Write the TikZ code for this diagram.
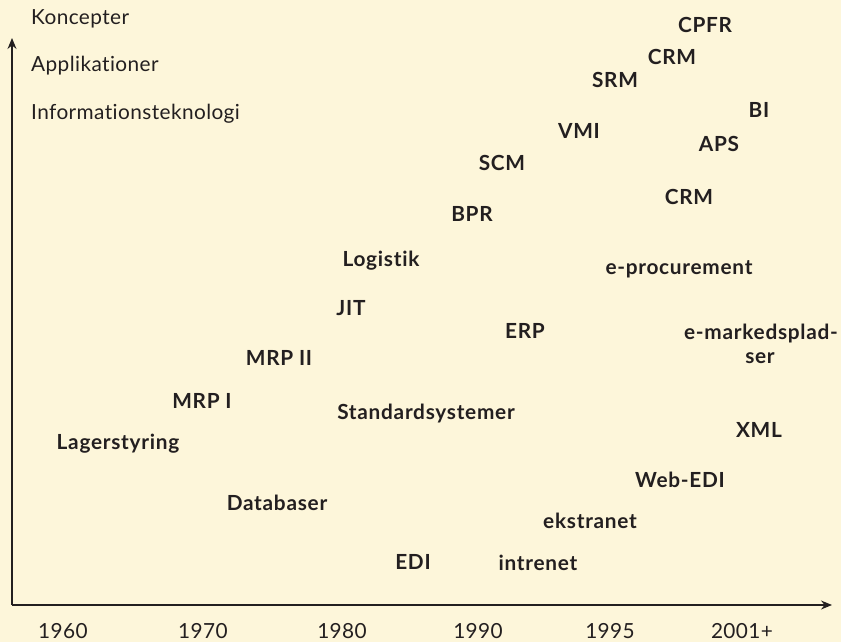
\documentclass[tikz,border=0pt]{standalone}
\usepackage{fontspec}
\setmainfont{Lato}[Ligatures={NoCommon,NoRare}]
\newfontfamily\bfam{Lato Bold}[Ligatures={NoCommon,NoRare},LetterSpace=3.5]
\newfontfamily\rfam{Lato}[Ligatures={NoCommon,NoRare},LetterSpace=2]
\usetikzlibrary{arrows.meta}
\definecolor{bg}{HTML}{FDF6DA}
\definecolor{ink}{HTML}{231F20}
\tikzset{
  bl/.style={font=\fontsize{20.8}{24}\bfam, text=ink, inner sep=0pt, anchor=base},
  rl/.style={font=\fontsize{20.8}{24}\rfam, text=ink, inner sep=0pt, anchor=base},
  axis/.style={draw=ink, line width=1.3pt, -{Stealth[length=11pt,width=9pt]}}
}
\begin{document}
\begin{tikzpicture}[x=1pt,y=-1pt]
\fill[bg] (0,0) rectangle (841,642);
\useasboundingbox (0,0) rectangle (841,642);
% axes
\coordinate (o) at (12,605);
\coordinate (ytop) at (12,38);
\coordinate (xend) at (832,605);
\draw[axis] (o) -- (ytop);
\draw[axis] (o) -- (xend);
% left legend
\node[rl, anchor=base west] (k) at (31,24.5) {Koncepter};
\node[rl, anchor=base west] (a) at (31,71.5) {Applikationer};
\node[rl, anchor=base west] (i) at (31,119.5) {Informationsteknologi};
% years
\node[rl] (y60) at (63,638.5) {1960};
\node[rl] (y70) at (203,638.5) {1970};
\node[rl] (y80) at (342,638.5) {1980};
\node[rl] (y90) at (478,638.5) {1990};
\node[rl] (y95) at (610,638.5) {1995};
\node[rl] (y01) at (742,638.5) {2001+};
% items
\node[bl] (cpfr) at (705,32.5) {CPFR};
\node[bl] (crma) at (672,64.5) {CRM};
\node[bl] (srm) at (615,87.5) {SRM};
\node[bl] (bi) at (759,117.5) {BI};
\node[bl] (vmi) at (579,138.5) {VMI};
\node[bl] (aps) at (719,151.5) {APS};
\node[bl] (scm) at (502,170.5) {SCM};
\node[bl] (crmb) at (689,204.5) {CRM};
\node[bl] (bpr) at (472,221.5) {BPR};
\node[bl] (log) at (381,266.5) {Logistik};
\node[bl] (ep) at (679,274.5) {e-procurement};
\node[bl] (jit) at (351,315.5) {JIT};
\node[bl] (erp) at (525,338.5) {ERP};
\node[bl] (em1) at (761,339.5) {e-markedsplad-};
\node[bl] (em2) at (760,363) {ser};
\node[bl] (mrp2) at (279,365.5) {MRP II};
\node[bl] (mrp1) at (202,408.5) {MRP I};
\node[bl] (std) at (426,419.5) {Standardsystemer};
\node[bl] (xml) at (759,437.5) {XML};
\node[bl] (lager) at (118,449.5) {Lagerstyring};
\node[bl] (web) at (680,487.5) {Web-EDI};
\node[bl] (db) at (277,510.5) {Databaser};
\node[bl] (eks) at (590,528) {ekstranet};
\node[bl] (edi) at (413,569.5) {EDI};
\node[bl] (intr) at (538,570) {intrenet};
\end{tikzpicture}
\end{document}
